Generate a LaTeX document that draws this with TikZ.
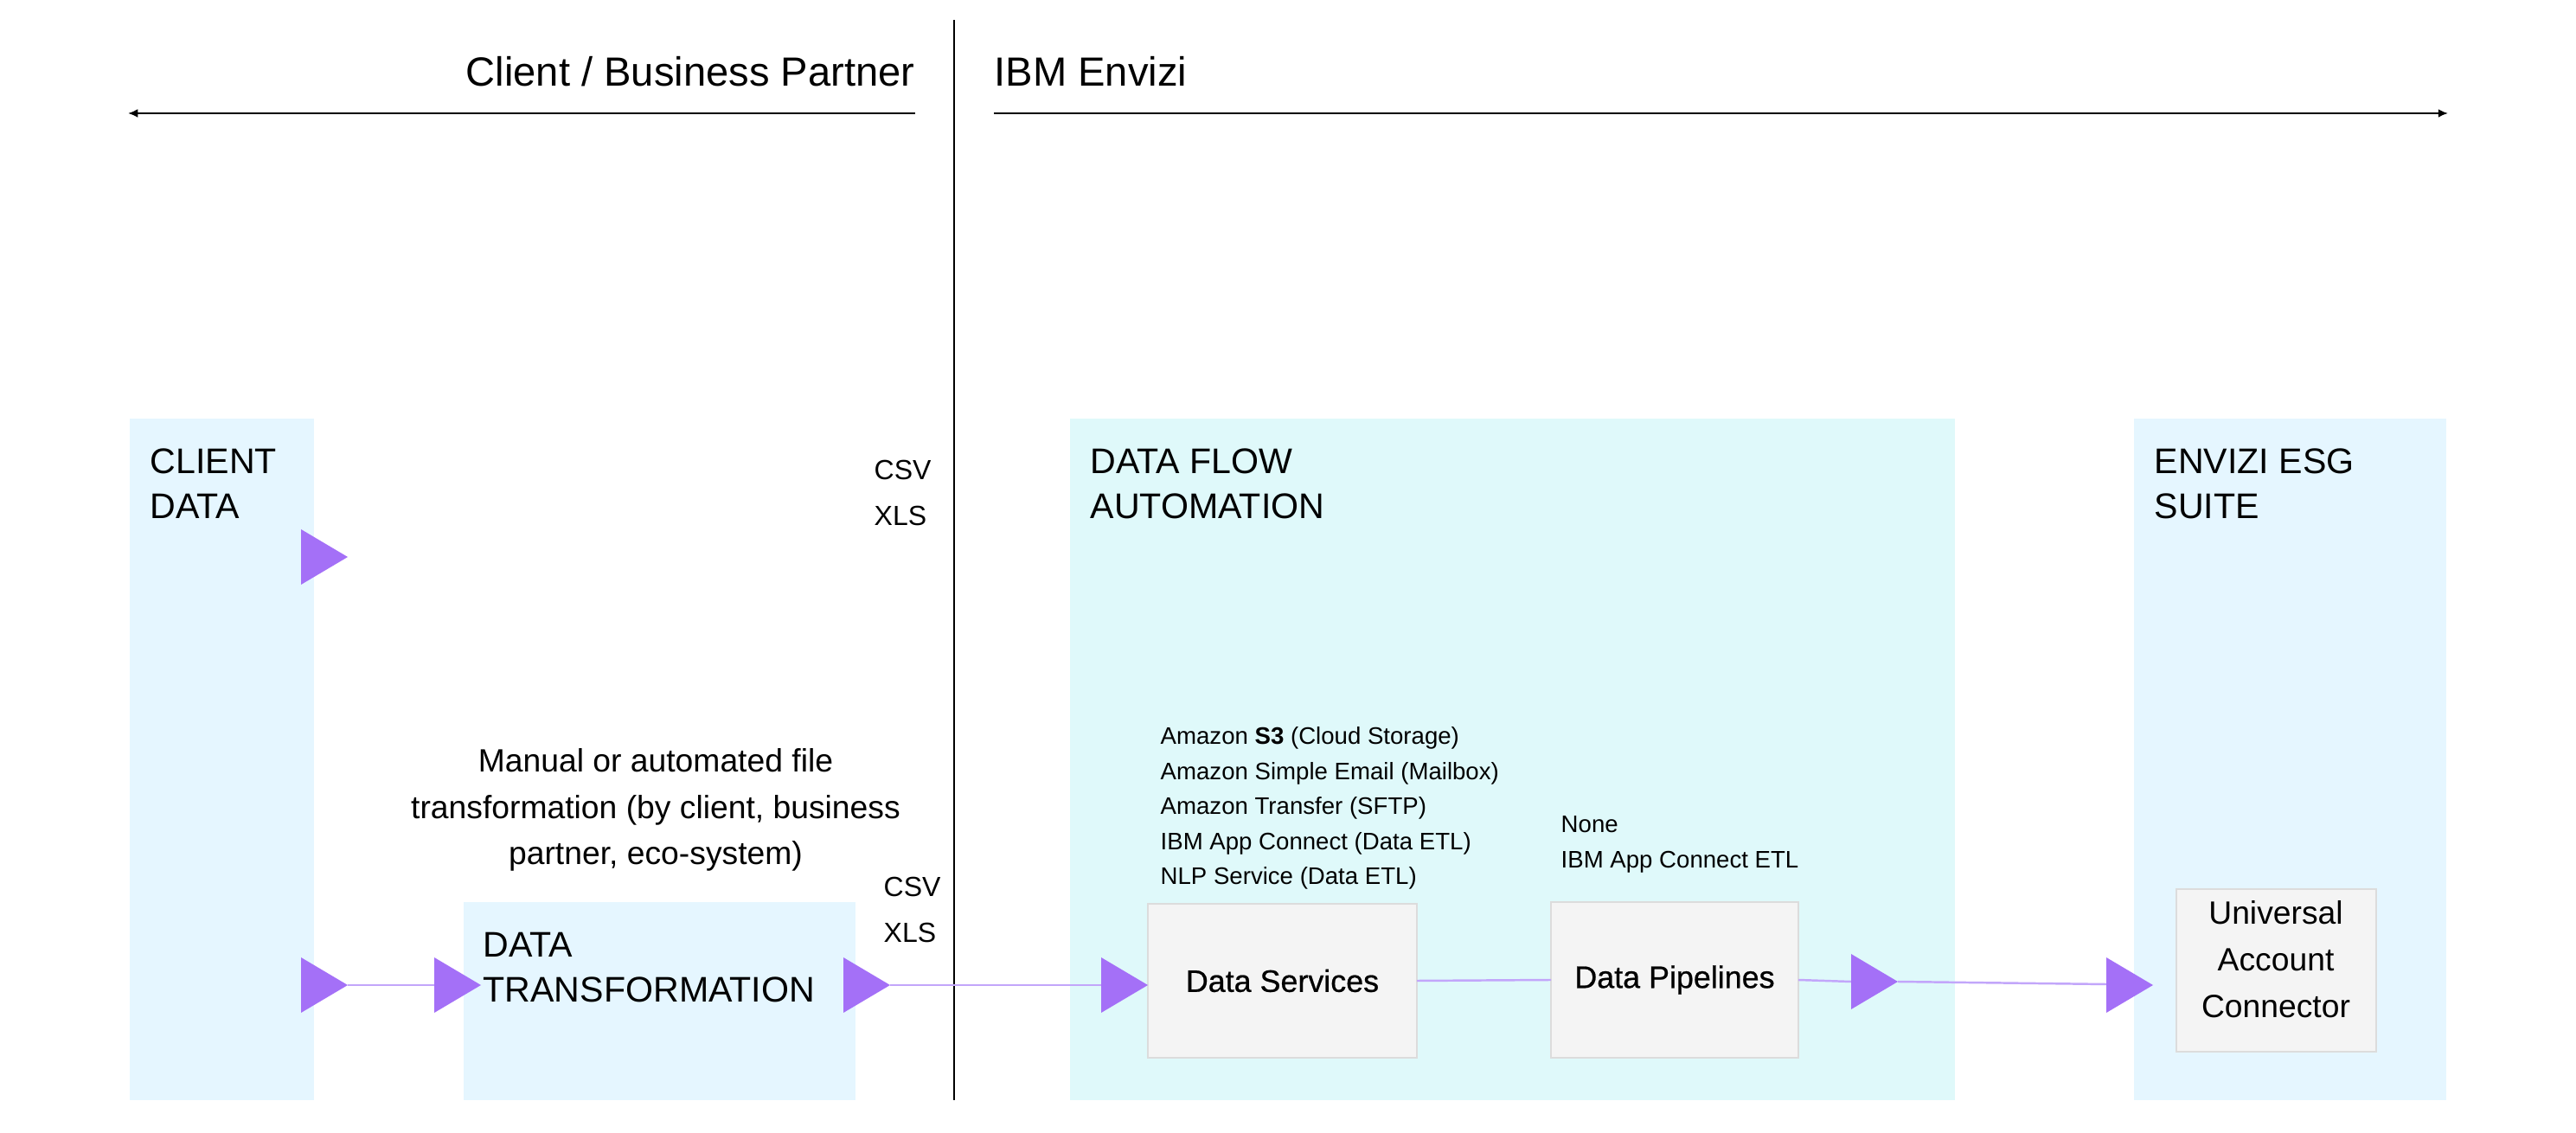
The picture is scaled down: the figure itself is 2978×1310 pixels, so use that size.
\documentclass[tikz,border=0pt]{standalone}
\usepackage{fontspec}
\setmainfont{Liberation Sans}
\newfontfamily\medfont{Liberation Sans}[FakeBold=0.6]
\usetikzlibrary{arrows.meta,fit}
\definecolor{panelblue}{HTML}{E5F6FF}
\definecolor{panelteal}{HTML}{DFF9FA}
\definecolor{boxfill}{HTML}{F4F4F4}
\definecolor{boxline}{HTML}{DCDCDC}
\definecolor{tri}{HTML}{A470F7}
\definecolor{flowline}{HTML}{C2A6FA}
\newcommand{\fsz}[2]{\fontsize{#1}{#2}\selectfont}
\begin{document}
\begin{tikzpicture}[x=0.01cm,y=-0.01cm,
  panelb/.style={fill=panelblue, draw=none, inner sep=0, outer sep=0},
  panelt/.style={fill=panelteal, draw=none, inner sep=0, outer sep=0},
  sbox/.style={fill=boxfill, draw=boxline, line width=0.7pt, inner sep=0, outer sep=0},
  hdrtext/.style={inner sep=0, font=\fsz{13.4pt}{16pt}},
  sectitle/.style={inner sep=0, anchor=north west, align=left, font=\fsz{11.7pt}{14.8pt}},
  fmt/.style={inner sep=0, anchor=north west, align=left, font=\fsz{9.1pt}{15.3pt}},
  listtext/.style={inner sep=0, anchor=north west, align=left, font=\fsz{7.85pt}{11.5pt}},
  boxtext/.style={inner sep=0, font=\medfont\fsz{10.2pt}{12pt}},
  hdrline/.style={line width=0.6pt, draw=black},
  hdrarrow/.style={hdrline, -{Latex[length=3.2pt,width=2.8pt]}},
  flow/.style={draw=flowline, line width=0.7pt},
  trifill/.style={fill=tri, draw=none}
]
\useasboundingbox (0,0) rectangle (2978,1310);
\fill[white] (0,0) rectangle (2978,1310);

% panels
\node[panelb, fit={(150,484) (363,1272)}] (clientdata) {};
\node[panelb, fit={(536,1043) (989,1272)}] (datatrans) {};
\node[panelt, fit={(1237,484) (2260,1272)}] (dataflow) {};
\node[panelb, fit={(2467,484) (2828,1272)}] (esg) {};

% header
\coordinate (divTop) at (1103,23);
\coordinate (divBot) at (1103,1272);
\draw[hdrline] (divTop) -- (divBot);
\coordinate (lStart) at (1058,131);
\coordinate (lEnd) at (148,131);
\coordinate (rStart) at (1149,131);
\coordinate (rEnd) at (2830,131);
\draw[hdrarrow] (lStart) -- (lEnd);
\draw[hdrarrow] (rStart) -- (rEnd);
\node[hdrtext, anchor=base east] (clienthdr) at (1058,100) {Client / Business Partner};
\node[hdrtext, anchor=base west] (envizihdr) at (1149,100) {IBM Envizi};

% section titles
\node[sectitle] (cdtitle) at (173,518) {CLIENT\\DATA};
\node[sectitle] (dftitle) at (1260,518) {DATA FLOW\\AUTOMATION};
\node[sectitle] (esgtitle) at (2490,518) {ENVIZI ESG\\SUITE};
\node[sectitle] (dttitle) at (558,1077) {DATA\\TRANSFORMATION};

% format labels
\node[fmt] (fmtTop) at (1010,531) {CSV\\XLS};
\node[fmt] (fmtBot) at (1021,1013) {CSV\\XLS};

% description
\node[inner sep=0, anchor=north, align=center, font=\fsz{10.6pt}{15.2pt}] (manual) at (758,865)
  {Manual or automated file\\transformation (by client, business\\partner, eco-system)};

% service lists
\node[listtext] (dslist) at (1341,840)
  {Amazon \textbf{S3} (Cloud Storage)\\Amazon Simple Email (Mailbox)\\Amazon Transfer (SFTP)\\IBM App Connect (Data ETL)\\NLP Service (Data ETL)};
\node[listtext] (dplist) at (1804,943) {None\\IBM App Connect ETL};

% boxes
\node[sbox, fit={(1327,1045) (1638,1223)}] (ds) {};
\node[sbox, fit={(1793,1043) (2079,1223)}] (dp) {};
\node[sbox, fit={(2516,1028) (2747,1216)}] (uac) {};
\node[boxtext] (dstext) at (ds.center) {Data Services};
\node[boxtext] (dptext) at (dp.center) {Data Pipelines};
\node[inner sep=0, anchor=north, align=center, font=\fsz{10.6pt}{15.3pt}] (uactext) at (2631,1041)
  {Universal\\Account\\Connector};

% flow coordinates
\coordinate (cdTop) at (402,644);
\coordinate (cdBot) at (402,1139);
\coordinate (dtIn) at (556,1139);
\coordinate (dtInBase) at (502,1139);
\coordinate (dtOut) at (1029,1139);
\coordinate (dsIn) at (1327,1139);
\coordinate (dsInBase) at (1273,1139);
\coordinate (dpOut) at (2194,1135);
\coordinate (dpOutBase) at (2140,1135);
\coordinate (uacIn) at (2489,1139);
\coordinate (uacInBase) at (2435,1138);

% flow lines
\draw[flow] (cdBot) -- (dtInBase);
\draw[flow] (dtOut) -- (dsInBase);
\draw[flow] (ds.east) -- (dp.west);
\draw[flow] (dp.east) -- (dpOutBase);
\draw[flow] (dpOut) -- (uacInBase);

% arrow triangles
\foreach \t in {cdTop,cdBot,dtIn,dtOut,dsIn,dpOut,uacIn}{
  \fill[trifill] (\t) -- ++(-54,-32) -- ++(0,64) -- cycle;
}
\end{tikzpicture}
\end{document}
